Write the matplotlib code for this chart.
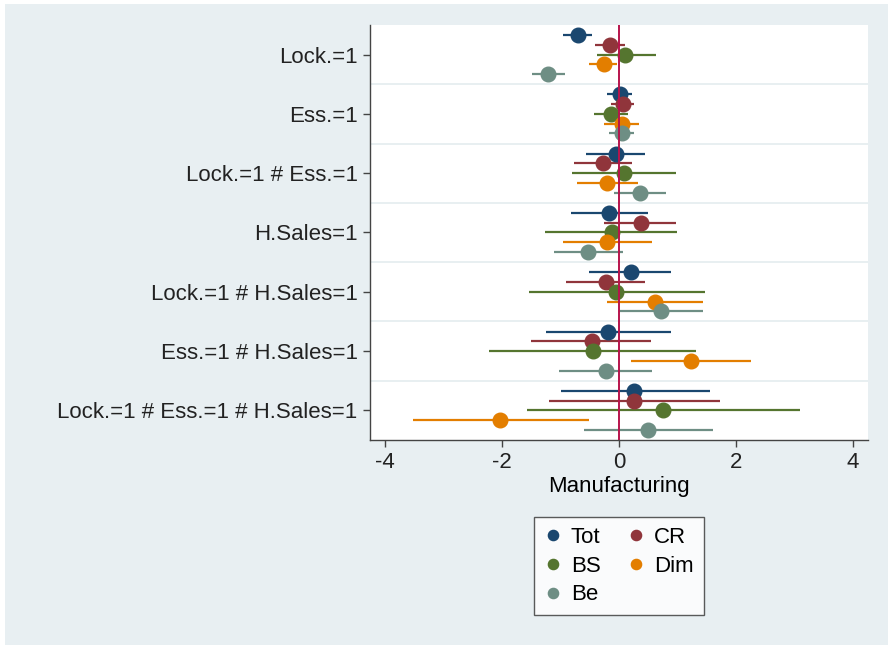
import matplotlib
matplotlib.use("Agg")
import matplotlib.pyplot as plt
from matplotlib.patches import Rectangle
import numpy as np

plt.rcParams['font.family'] = ['Liberation Sans', 'DejaVu Sans']

# terms on the y axis, top to bottom
TERMS = ["Lock.=1", "Ess.=1", "Lock.=1 # Ess.=1", "H.Sales=1",
         "Lock.=1 # H.Sales=1", "Ess.=1 # H.Sales=1",
         "Lock.=1 # Ess.=1 # H.Sales=1"]

SERIES = ["Tot", "CR", "BS", "Dim", "Be"]
COLORS = ["#1a476f", "#90353b", "#55752f", "#e37e00", "#6e8e84"]

# point estimates per series (one value per term)
TOT = [-0.71, 0.01, -0.06, -0.18, 0.20, -0.19, 0.25]
CR = [-0.15, 0.07, -0.28, 0.38, -0.23, -0.47, 0.25]
BS = [0.11, -0.14, 0.09, -0.12, -0.05, -0.45, 0.75]
DIM = [-0.26, 0.05, -0.21, -0.21, 0.61, 1.23, -2.03]
BE = [-1.21, 0.05, 0.36, -0.53, 0.71, -0.23, 0.49]

# confidence interval bounds
TOT_LO = [-0.95, -0.20, -0.57, -0.83, -0.51, -1.25, -1.00]
TOT_HI = [-0.47, 0.22, 0.44, 0.49, 0.89, 0.89, 1.55]
CR_LO = [-0.41, -0.13, -0.77, -0.26, -0.91, -1.51, -1.20]
CR_HI = [0.11, 0.26, 0.23, 0.98, 0.45, 0.55, 1.72]
BS_LO = [-0.38, -0.43, -0.81, -1.26, -1.54, -2.22, -1.57]
BS_HI = [0.63, 0.15, 0.97, 1.00, 1.47, 1.31, 3.10]
DIM_LO = [-0.52, -0.26, -0.72, -0.95, -0.20, 0.21, -3.52]
DIM_HI = [-0.03, 0.34, 0.32, 0.57, 1.44, 2.25, -0.52]
BE_LO = [-1.49, -0.17, -0.08, -1.12, 0.00, -1.03, -0.60]
BE_HI = [-0.92, 0.26, 0.80, 0.07, 1.44, 0.57, 1.60]

POINTS = [TOT, CR, BS, DIM, BE]
LOWS = [TOT_LO, CR_LO, BS_LO, DIM_LO, BE_LO]
HIGHS = [TOT_HI, CR_HI, BS_HI, DIM_HI, BE_HI]

FS = 16

fig = plt.figure(figsize=(8.88, 6.46), dpi=100)
fig.patch.set_facecolor("white")
fig.add_artist(Rectangle((0.006, 0.0015), 0.994, 0.992, transform=fig.transFigure,
                         facecolor="#e8eff2", edgecolor="none", zorder=-10))

ax = fig.add_axes([0.4167, 0.3189, 0.5608, 0.6424])
ax.set_facecolor("white")

pos = np.arange(len(TERMS))
step = 0.165
for i, name in enumerate(SERIES):
    y = pos + (i - 2) * step
    ax.hlines(y, LOWS[i], HIGHS[i], color=COLORS[i], lw=1.6, zorder=3)
    ax.plot(POINTS[i], y, 'o', color=COLORS[i], ms=10.5, label=name, zorder=4)

ax.axvline(0, color="#b8144c", lw=1.4, zorder=5)

# separators between terms
for b in np.arange(0.5, len(TERMS) - 1, 1.0):
    ax.axhline(b, color="#e4ecef", lw=1.2, zorder=1)

ax.set_ylim(len(TERMS) - 0.5, -0.5)
ax.set_xlim(-4.26, 4.26)
ax.set_yticks(pos)
ax.set_yticklabels(TERMS, fontsize=FS)
ax.set_xticks([-4, -2, 0, 2, 4])
ax.set_xticklabels(["-4", "-2", "0", "2", "4"], fontsize=FS)
ax.set_xlabel("Manufacturing", fontsize=FS, labelpad=2)
ax.tick_params(axis="both", length=5, width=1, color="#444444", colors="#222222", pad=4)

for s in ["top", "right"]:
    ax.spines[s].set_visible(False)
for s in ["left", "bottom"]:
    ax.spines[s].set_color("#444444")
    ax.spines[s].set_linewidth(1)

h, l = ax.get_legend_handles_labels()
order = [0, 2, 4, 1, 3]
leg = fig.legend([h[k] for k in order], [l[k] for k in order], ncol=2,
                 loc="center", bbox_to_anchor=(619 / 888, 1 - 566 / 646),
                 fontsize=FS, markerscale=0.7, frameon=True, fancybox=False,
                 handletextpad=0.4, columnspacing=1.2, labelspacing=0.35,
                 borderpad=0.45, handlelength=0.8)
leg.get_frame().set_edgecolor("#333333")
leg.get_frame().set_linewidth(1)

fig.savefig("out.png", dpi=100, facecolor=fig.get_facecolor())
